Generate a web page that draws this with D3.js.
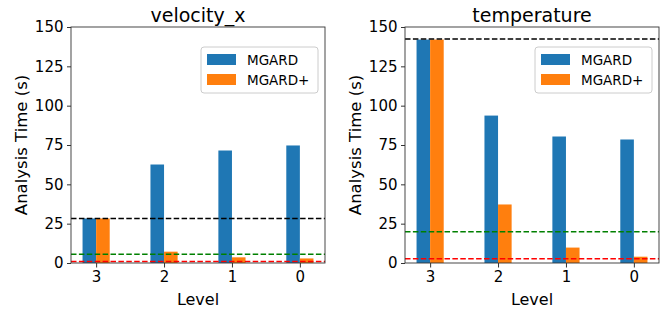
<!DOCTYPE html>
<html>
<head>
<meta charset="utf-8">
<script src="https://cdn.jsdelivr.net/npm/d3@7"></script>
<style>
  body { margin: 0; background: #fff; }
  text { font-family: "DejaVu Sans", sans-serif; fill: #000; }
</style>
</head>
<body>
<div id="chart"></div>
<script>
// levels on the x axis, left to right
var levels = ['3', '2', '1', '0'];
var yTicks = [0, 25, 50, 75, 100, 125, 150];
var seriesNames = ['MGARD', 'MGARD+'];

// velocity_x panel
var velMgard = [28.3, 62.6, 71.5, 74.7];
var velMgardPlus = [28.3, 7.2, 3.6, 2.9];
var velLines = [28.3, 5.5, 1.0]; // black, green, red

// temperature panel
var tempMgard = [142, 93.7, 80.4, 78.5];
var tempMgardPlus = [142, 37.2, 9.8, 4.0];
var tempLines = [142.3, 19.8, 2.7];

var colors = ['#1f77b4', '#ff7f0e'];
var lineColors = ['#000000', '#008000', '#ff0000'];

var width = 668, height = 314;
var svg = d3.select('#chart').append('svg')
    .attr('width', width)
    .attr('height', height);

function panel(left, title, mgard, mgardPlus, hlines) {
    var w = 254, top = 27, bottom = 263;
    var g = svg.append('g').attr('transform', 'translate(' + left + ',0)');

    var x = d3.scaleLinear().domain([-0.37, 3.37]).range([0, w]);
    var y = d3.scaleLinear().domain([0, 150]).range([bottom, top]);
    var bw = x(0.2) - x(0);

    // bars
    var both = [mgard, mgardPlus];
    both.forEach(function(vals, s) {
        g.append('g').selectAll('rect')
            .data(vals)
            .enter()
            .append('rect')
            .attr('x', function(d, i) { return s === 0 ? x(i) - bw : x(i); })
            .attr('y', function(d) { return y(d); })
            .attr('width', bw)
            .attr('height', function(d) { return y(0) - y(d); })
            .attr('fill', colors[s]);
    });

    // dashed reference lines
    g.append('g').selectAll('line')
        .data(hlines)
        .enter()
        .append('line')
        .attr('x1', 0)
        .attr('x2', w)
        .attr('y1', function(d) { return y(d); })
        .attr('y2', function(d) { return y(d); })
        .attr('stroke', function(d, i) { return lineColors[i]; })
        .attr('stroke-width', 1.5)
        .attr('stroke-dasharray', '5.5,2.4');

    // frame
    g.append('rect')
        .attr('x', 0).attr('y', top)
        .attr('width', w).attr('height', bottom - top)
        .attr('fill', 'none')
        .attr('stroke', '#333')
        .attr('stroke-width', 0.9);

    // y axis
    var yAxis = g.append('g')
        .call(d3.axisLeft(y).tickValues(yTicks).tickSize(4).tickPadding(3.5));
    yAxis.select('.domain').remove();
    yAxis.selectAll('line').attr('stroke', '#333');
    yAxis.selectAll('text').style('font-size', '15px').style('font-family', '"DejaVu Sans", sans-serif');

    // x axis
    var xAxis = g.append('g')
        .attr('transform', 'translate(0,' + bottom + ')')
        .call(d3.axisBottom(x).tickValues([0, 1, 2, 3])
            .tickFormat(function(d) { return levels[d]; })
            .tickSize(4.5).tickPadding(4));
    xAxis.select('.domain').remove();
    xAxis.selectAll('line').attr('stroke', '#333');
    xAxis.selectAll('text').style('font-size', '15px').style('font-family', '"DejaVu Sans", sans-serif');

    // labels
    g.append('text')
        .attr('x', w / 2).attr('y', 22)
        .attr('text-anchor', 'middle')
        .style('font-size', '19px')
        .text(title);
    g.append('text')
        .attr('x', w / 2).attr('y', 305)
        .attr('text-anchor', 'middle')
        .style('font-size', '16px')
        .text('Level');
    g.append('text')
        .attr('transform', 'translate(' + (-44) + ',' + ((top + bottom) / 2) + ') rotate(-90)')
        .attr('text-anchor', 'middle')
        .style('font-size', '16.5px')
        .text('Analysis Time (s)');

    // legend
    var lg = g.append('g').attr('transform', 'translate(' + (w - 124) + ',47)');
    lg.append('rect')
        .attr('width', 117).attr('height', 46)
        .attr('rx', 3)
        .attr('fill', '#fff')
        .attr('fill-opacity', 0.8)
        .attr('stroke', '#ccc');
    seriesNames.forEach(function(name, i) {
        lg.append('rect')
            .attr('x', 6).attr('y', 7 + i * 20)
            .attr('width', 29).attr('height', 11)
            .attr('fill', colors[i]);
        lg.append('text')
            .attr('x', 46).attr('y', 17.5 + i * 20)
            .style('font-size', '13.5px')
            .text(name);
    });
}

panel(71, 'velocity_x', velMgard, velMgardPlus, velLines);
panel(405, 'temperature', tempMgard, tempMgardPlus, tempLines);
</script>
</body>
</html>
